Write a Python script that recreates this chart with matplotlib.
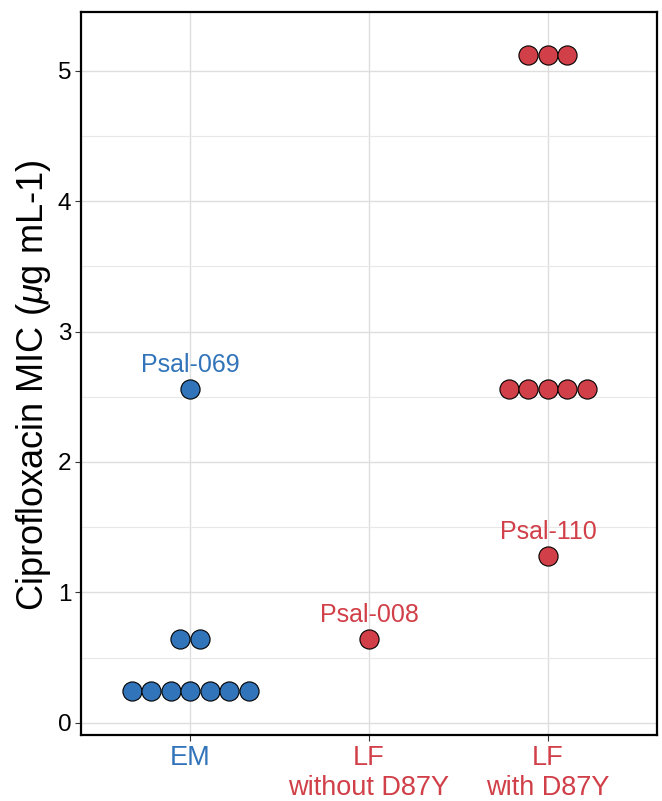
import numpy as np
import matplotlib
matplotlib.use("Agg")
import matplotlib.pyplot as plt

plt.rcParams["font.family"] = ["Liberation Sans", "DejaVu Sans"]
plt.rcParams["mathtext.fontset"] = "custom"
plt.rcParams["mathtext.it"] = "Liberation Sans:italic"
plt.rcParams["mathtext.rm"] = "Liberation Sans"

# data
groups = ["EM", "LF\nwithout D87Y", "LF\nwith D87Y"]
em_mic = [0.24, 0.24, 0.24, 0.24, 0.24, 0.24, 0.24, 0.64, 0.64, 2.56]
lf_wo_mic = [0.64]
lf_with_mic = [1.28, 2.56, 2.56, 2.56, 2.56, 2.56, 5.12, 5.12, 5.12]
group_values = [em_mic, lf_wo_mic, lf_with_mic]

label_names = ["Psal-069", "Psal-008", "Psal-110"]
label_group = [0, 1, 2]
label_mic = [2.56, 0.64, 1.28]

blue = "#3174BA"
red = "#D13F48"
group_colors = [blue, red, red]

fig = plt.figure(figsize=(6.62, 8.01), dpi=100)
ax = fig.add_axes([81 / 662, 66 / 801, 576 / 662, 723 / 801])

# dotplot style: stack equal values side by side, centred on the group
dot_w = 0.109
for gi, vals in enumerate(group_values):
    vals = np.array(vals)
    for v in np.unique(vals):
        n = int(np.sum(vals == v))
        xs = gi + 1 + (np.arange(n) - (n - 1) / 2) * dot_w
        ax.scatter(xs, np.full(n, v), s=190, color=group_colors[gi],
                   edgecolor="black", linewidth=0.8, zorder=3)

for name, gi, v in zip(label_names, label_group, label_mic):
    ax.annotate(name, (gi + 1, v), xytext=(0, 17.5), textcoords="offset points",
                ha="center", va="center", fontsize=18,
                color=group_colors[gi], zorder=4)

ax.set_xlim(0.39, 3.61)
ax.set_ylim(-0.094, 5.45)
ax.set_xticks([1, 2, 3])
ax.set_xticklabels(groups, fontsize=19.5, linespacing=1.22)
ax.set_yticks([0, 1, 2, 3, 4, 5])
ax.set_yticks(np.arange(0.5, 5.5, 1), minor=True)
ax.tick_params(axis="y", which="major", labelsize=17.5, length=4, width=0.8,
               colors="#333333", labelcolor="black", pad=3)
ax.tick_params(axis="y", which="minor", length=0)
ax.tick_params(axis="x", length=4, width=0.8, colors="#333333", pad=3)
for lab, c in zip(ax.get_xticklabels(), group_colors):
    lab.set_color(c)

ax.grid(True, which="major", color="#DEDEDE", linewidth=1.0, zorder=0)
ax.grid(True, which="minor", axis="y", color="#E8E8E8", linewidth=0.8, zorder=0)
ax.set_axisbelow(True)
for s in ax.spines.values():
    s.set_linewidth(1.6)
    s.set_color("black")

ax.set_ylabel(r"Ciprofloxacin MIC ($\mu$g mL-1)", fontsize=26, va="center")
ax.yaxis.set_label_coords(-0.083, 0.484)

fig.savefig("out.png", dpi=100)
